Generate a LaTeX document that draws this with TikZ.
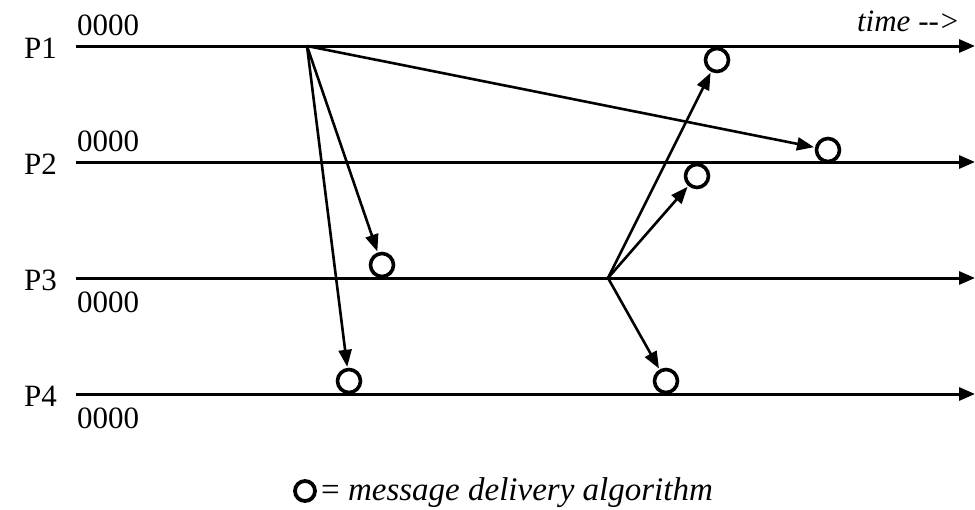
\documentclass[tikz,border=0pt]{standalone}
\usepackage{fontspec}
\setmainfont{Liberation Serif}
\usetikzlibrary{arrows.meta}
\begin{document}
\begin{tikzpicture}[x=1pt,y=-1pt,
  lbl/.style={inner sep=0pt,anchor=base west,font=\fontsize{31}{36}\selectfont},
  tline/.style={line width=3pt,-{Triangle[length=16pt,width=13pt]}},
  msg/.style={line width=2.6pt,-{Triangle[length=17pt,width=13pt]},shorten >=1pt},
  dlv/.style={circle,draw,line width=3.6pt,minimum size=23pt,inner sep=0pt}]
\useasboundingbox (0,0) rectangle (975,509);
% timelines
\foreach \i/\y in {1/46,2/162,3/278,4/394}{
  \coordinate (l\i) at (76,\y);
  \coordinate (r\i) at (975,\y);
  \draw[tline] (l\i) -- (r\i);
}
\node[lbl] (p1) at (24,58) {P1};
\node[lbl] (p2) at (24,174) {P2};
\node[lbl] (p3) at (24,290) {P3};
\node[lbl] (p4) at (24,406) {P4};
\node[lbl] (t1) at (77,35) {0000};
\node[lbl] (t2) at (77,151) {0000};
\node[lbl] (t3) at (77,312) {0000};
\node[lbl] (t4) at (77,428) {0000};
\node[lbl,anchor=base east] (time) at (960,31) {\textit{time -{}-{}>}};
% delivery circles
\node[dlv] (c1) at (717,60) {};
\node[dlv] (c2) at (828,150) {};
\node[dlv] (c3) at (697,176) {};
\node[dlv] (c4) at (382,265) {};
\node[dlv] (c5) at (349,381) {};
\node[dlv] (c6) at (666,381) {};
% send events
\coordinate (s1) at (307,46);
\coordinate (s3) at (608,278);
\draw[msg] (s1) -- (c2);
\draw[msg] (s1) -- (c4);
\draw[msg] (s1) -- (c5);
\draw[msg] (s3) -- (c1);
\draw[msg] (s3) -- (c3);
\draw[msg] (s3) -- (c6);
% legend
\node[dlv,minimum size=20pt,line width=3.8pt] (lc) at (305,491) {};
\node[lbl,font=\fontsize{33}{38}\selectfont] (leg) at (321,500) {= \textit{message delivery algorithm}};
\end{tikzpicture}
\end{document}
